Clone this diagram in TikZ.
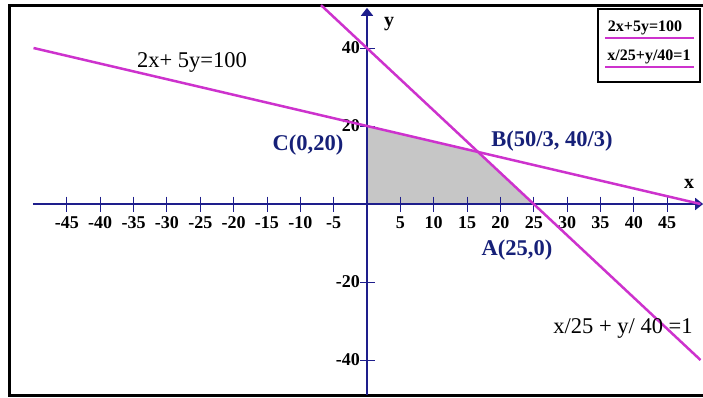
\documentclass[tikz,border=0pt]{standalone}
\usepackage{fontspec}
\setmainfont{Liberation Serif}
\usetikzlibrary{arrows.meta}
\definecolor{navy}{RGB}{30,30,140}
\definecolor{lblue}{RGB}{22,32,120}
\definecolor{mag}{RGB}{205,50,205}
\definecolor{regiongray}{RGB}{198,198,198}
\tikzset{
 axis/.style={draw=navy, line width=1.8pt, -{Triangle[length=8pt,width=12pt]}},
 tickmark/.style={draw=navy, line width=0.9pt},
 graphline/.style={draw=mag, line width=2.5pt},
 ticklabel/.style={font=\bfseries\fontsize{18}{18}\selectfont, inner sep=0pt},
 pointlabel/.style={font=\bfseries\fontsize{22.5}{22.5}\selectfont, text=lblue, inner sep=0pt},
 eqlabel/.style={font=\fontsize{22.5}{22.5}\selectfont, inner sep=0pt},
 axislabel/.style={font=\bfseries\fontsize{20}{20}\selectfont, inner sep=0pt},
 legendtext/.style={font=\bfseries\fontsize{16}{16}\selectfont, inner sep=0pt},
 legendline/.style={draw=mag, line width=2pt},
}
\begin{document}
\begin{tikzpicture}[x=1pt,y=-1pt]
\useasboundingbox (0,0) rectangle (703,397);
% frame
\coordinate (f1) at (708,5);
\coordinate (f2) at (9,5);
\coordinate (f3) at (9,395);
\coordinate (f4) at (708,395);
\draw[line width=3pt] (f1) -- (f2) -- (f3) -- (f4);
\begin{scope}[shift={(367pt,-204pt)}, x=6.67pt, y=3.9pt]
 \coordinate (O) at (0,0);
 \coordinate (A) at (25,0);
 \coordinate (B) at (50/3,40/3);
 \coordinate (C) at (0,20);
 \fill[regiongray] (O) -- (A) -- (B) -- (C) -- cycle;
 % axes
 \coordinate (xl) at (-50.1,0);
 \coordinate (xr) at (50.4,0);
 \coordinate (yb) at (0,-49);
 \coordinate (yt) at (0,50.3);
 \draw[axis] (xl) -- (xr);
 \draw[axis] (yb) -- (yt);
 % x ticks
 \foreach \t in {-45,-40,...,-5,5,10,...,45}{
  \coordinate (tu\t) at ([yshift=7.5pt]\t,0);
  \coordinate (td\t) at ([yshift=-7.5pt]\t,0);
  \draw[tickmark] (tu\t) -- (td\t);
  \node[ticklabel] (tl\t) at ([yshift=-19pt]\t,0) {\t};
 }
 % y ticks
 \foreach \t in {-40,-20,20,40}{
  \coordinate (yl\t) at ([xshift=-7pt]0,\t);
  \coordinate (yr\t) at ([xshift=8pt]0,\t);
  \draw[tickmark] (yl\t) -- (yr\t);
  \node[ticklabel, anchor=east] (ytl\t) at ([xshift=-7pt]0,\t) {\t};
 }
 % constraint lines
 \coordinate (L1a) at (-50,40);
 \coordinate (L1b) at (50,0);
 \coordinate (L2a) at (-6.9,51);
 \coordinate (L2b) at (50,-40);
 \draw[graphline] (L1a) -- (L1b);
 \draw[graphline] (L2a) -- (L2b);
\end{scope}
% labels
\node[eqlabel] (eq1) at (192,62) {2x+ 5y=100};
\node[eqlabel] (eq2) at (623,328) {x/25 + y/ 40 =1};
\node[pointlabel] (lC) at (308,145) {C(0,20)};
\node[pointlabel] (lB) at (552,141) {B(50/3, 40/3)};
\node[pointlabel] (lA) at (517,250) {A(25,0)};
\node[axislabel] (ly) at (389,24) {y};
\node[axislabel] (lx) at (689,184) {x};
% legend
\draw[line width=1.2pt] (598,9) rectangle (700,82);
\node[legendtext] (lg1) at (645,28) {2x+5y=100};
\node[legendtext] (lg2) at (649,57) {x/25+y/40=1};
\coordinate (lg1a) at (605,38);
\coordinate (lg1b) at (694,38);
\coordinate (lg2a) at (605,67);
\coordinate (lg2b) at (694,67);
\draw[legendline] (lg1a) -- (lg1b);
\draw[legendline] (lg2a) -- (lg2b);
\end{tikzpicture}
\end{document}
